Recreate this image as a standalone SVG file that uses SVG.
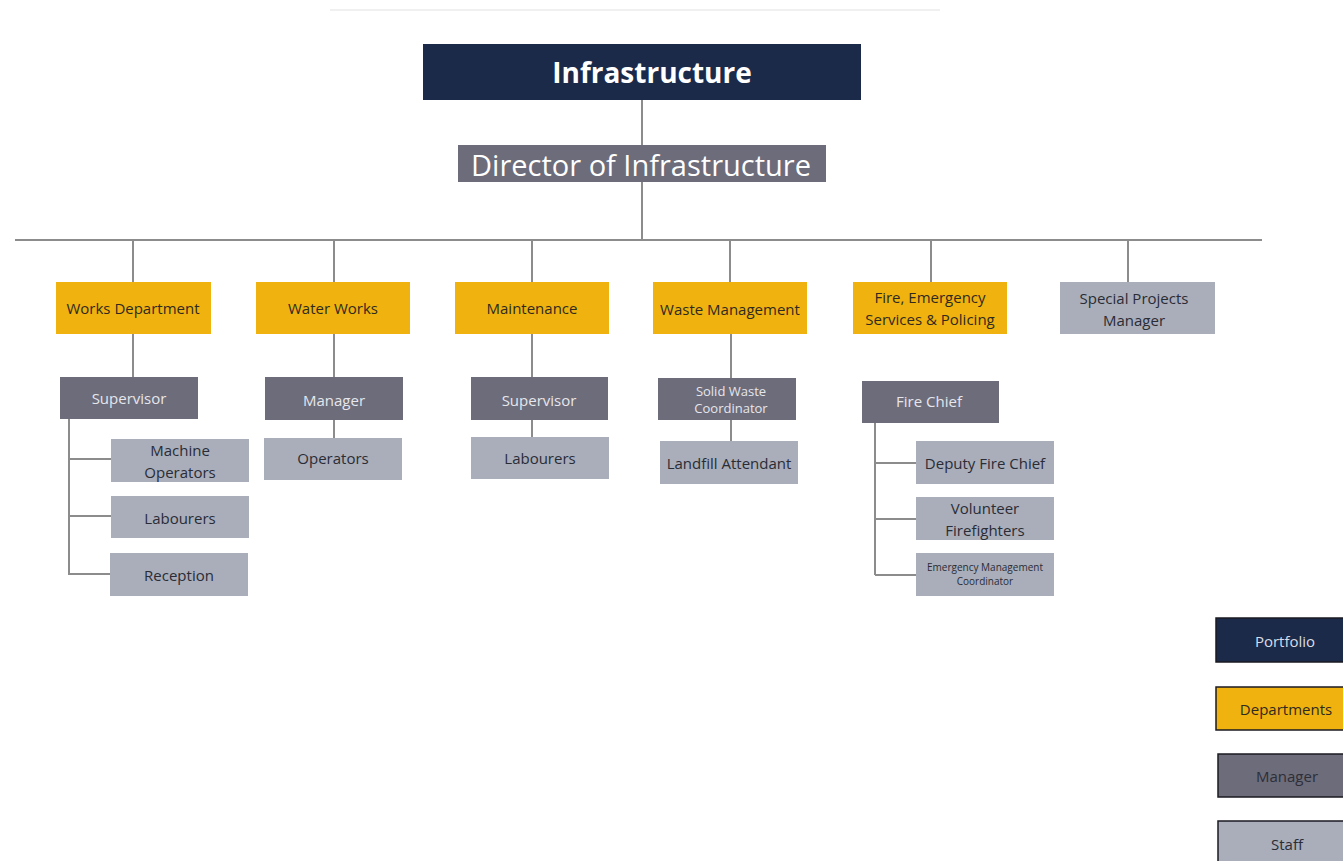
<svg xmlns="http://www.w3.org/2000/svg" width="1343" height="861" viewBox="0 0 1343 861">
<style>
text{font-family:"Open Sans","Noto Sans","Liberation Sans",sans-serif;text-anchor:middle;dominant-baseline:central}
.port{fill:#1c2a4a}
.dept{fill:#f0b20f}
.mgr{fill:#6c6c7a}
.staff{fill:#a9aeba}
.td{fill:#2e2a22;font-size:15px}
.tm{fill:#e6e6ec;font-size:15px}
.ts{fill:#2a2c36;font-size:15px}
.sm{font-size:13px}
.xs{font-size:10px}
.lg{stroke:#1a1a22;stroke-width:1.5}
.ln{stroke:#8c8c8c;stroke-width:2;fill:none}
</style>
<rect width="1343" height="861" fill="#ffffff"/>
<line x1="330" y1="10" x2="940" y2="10" stroke="#f0f0f0" stroke-width="2"/>
<g id="connectors" class="ln">
<path d="M642 100V145M642 182V240M15 240H1262"/>
<path d="M133 240V282M334 240V282M532 240V282M730 240V282M931 240V282M1128 240V282"/>
<path d="M133 334V377M334 334V377M532 334V377M731 334V378"/>
<path d="M334 420V438M532 420V437M731 420V441"/>
<path d="M69 419V575M69 459H111M69 516H111M69 574H110"/>
<path d="M875 423V575M875 463H916M875 519H916M875 575H916"/>
</g>
<g id="infrastructure"><rect class="port" x="423" y="44" width="438" height="56"/><text x="652" y="72" fill="#ffffff" font-size="28" font-weight="bold">Infrastructure</text></g>
<g id="director"><rect class="mgr" x="458" y="145" width="368" height="37"/><text x="641" y="164" fill="#ffffff" font-size="29">Director of Infrastructure</text></g>
<g id="works-dept"><rect class="dept" x="56" y="282" width="155" height="52"/><text class="td" x="133" y="308">Works Department</text></g>
<g id="water-works"><rect class="dept" x="256" y="282" width="154" height="52"/><text class="td" x="333" y="308">Water Works</text></g>
<g id="maintenance"><rect class="dept" x="455" y="282" width="154" height="52"/><text class="td" x="532" y="308">Maintenance</text></g>
<g id="waste-mgmt"><rect class="dept" x="653" y="282" width="154" height="52"/><text class="td" x="730" y="309">Waste Management</text></g>
<g id="fire-dept"><rect class="dept" x="853" y="282" width="154" height="52"/><text class="td" x="930" y="297">Fire, Emergency</text><text class="td" x="930" y="319">Services &amp; Policing</text></g>
<g id="special-projects"><rect class="staff" x="1060" y="282" width="155" height="52"/><text class="ts" x="1134" y="298">Special Projects</text><text class="ts" x="1134" y="320">Manager</text></g>
<g id="works-supervisor"><rect class="mgr" x="60" y="377" width="138" height="42"/><text class="tm" x="129" y="398">Supervisor</text></g>
<g id="ww-manager"><rect class="mgr" x="265" y="377" width="138" height="43"/><text class="tm" x="334" y="400">Manager</text></g>
<g id="maint-supervisor"><rect class="mgr" x="471" y="377" width="137" height="43"/><text class="tm" x="539" y="400">Supervisor</text></g>
<g id="solid-waste"><rect class="mgr" x="658" y="378" width="138" height="42"/><text class="tm sm" x="731" y="391">Solid Waste</text><text class="tm sm" x="731" y="408">Coordinator</text></g>
<g id="fire-chief"><rect class="mgr" x="862" y="381" width="137" height="42"/><text class="tm" x="929" y="401">Fire Chief</text></g>
<g id="machine-operators"><rect class="staff" x="111" y="439" width="138" height="43"/><text class="ts" x="180" y="450">Machine</text><text class="ts" x="180" y="472">Operators</text></g>
<g id="works-labourers"><rect class="staff" x="111" y="496" width="138" height="42"/><text class="ts" x="180" y="518">Labourers</text></g>
<g id="reception"><rect class="staff" x="110" y="553" width="138" height="43"/><text class="ts" x="179" y="575">Reception</text></g>
<g id="operators"><rect class="staff" x="264" y="438" width="138" height="42"/><text class="ts" x="333" y="458">Operators</text></g>
<g id="maint-labourers"><rect class="staff" x="471" y="437" width="138" height="42"/><text class="ts" x="540" y="458">Labourers</text></g>
<g id="landfill"><rect class="staff" x="660" y="441" width="138" height="43"/><text class="ts" x="729" y="463">Landfill Attendant</text></g>
<g id="deputy-fire-chief"><rect class="staff" x="916" y="441" width="138" height="43"/><text class="ts" x="985" y="463">Deputy Fire Chief</text></g>
<g id="volunteer-ff"><rect class="staff" x="916" y="497" width="138" height="43"/><text class="ts" x="985" y="508">Volunteer</text><text class="ts" x="985" y="530">Firefighters</text></g>
<g id="emergency-coord"><rect class="staff" x="916" y="553" width="138" height="43"/><text class="ts xs" x="985" y="567">Emergency Management</text><text class="ts xs" x="985" y="581">Coordinator</text></g>
<g id="legend-portfolio"><rect class="port lg" x="1216" y="618" width="135" height="44"/><text x="1285" y="641" fill="#d8dce6" font-size="15">Portfolio</text></g>
<g id="legend-departments"><rect class="dept lg" x="1216" y="687" width="135" height="43"/><text class="td" x="1286" y="709">Departments</text></g>
<g id="legend-manager"><rect class="mgr lg" x="1218" y="754" width="133" height="43"/><text x="1287" y="776" fill="#2e2e38" font-size="15">Manager</text></g>
<g id="legend-staff"><rect class="staff lg" x="1218" y="821" width="133" height="45"/><text class="ts" x="1287" y="844">Staff</text></g>
</svg>
